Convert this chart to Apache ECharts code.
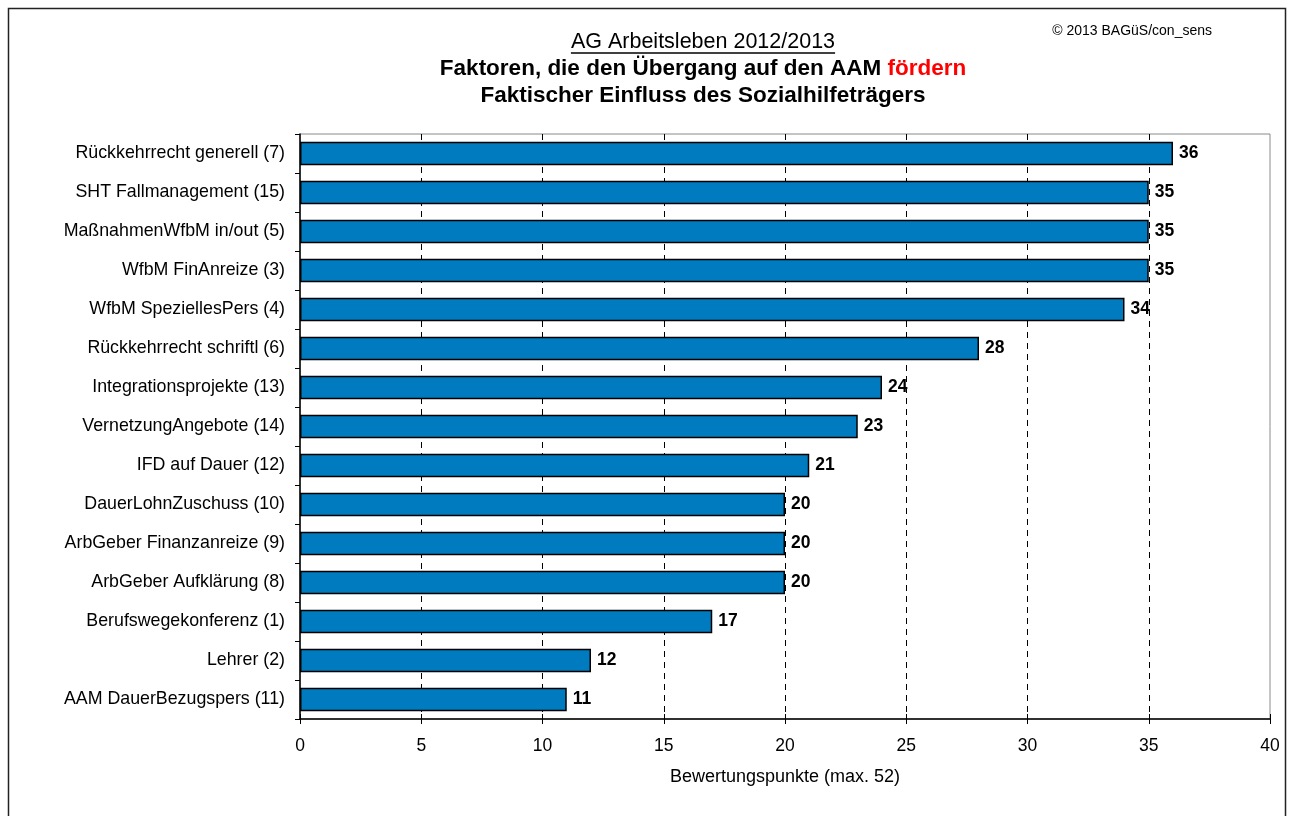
<!DOCTYPE html>
<html>
<head>
<meta charset="utf-8">
<script src="https://cdn.jsdelivr.net/npm/echarts@6/dist/echarts.min.js"></script>
<style>
  html, body { margin: 0; padding: 0; background: #fff; }
  #chart { width: 1292px; height: 816px; }
</style>
</head>
<body>
<div id="chart"></div>
<script>
// Factors listed top to bottom, with their rating points
const categories = [
  'Rückkehrrecht generell (7)',
  'SHT Fallmanagement (15)',
  'MaßnahmenWfbM in/out (5)',
  'WfbM FinAnreize (3)',
  'WfbM SpeziellesPers (4)',
  'Rückkehrrecht schriftl (6)',
  'Integrationsprojekte (13)',
  'VernetzungAngebote (14)',
  'IFD auf Dauer (12)',
  'DauerLohnZuschuss (10)',
  'ArbGeber Finanzanreize (9)',
  'ArbGeber Aufklärung (8)',
  'Berufswegekonferenz (1)',
  'Lehrer (2)',
  'AAM DauerBezugspers (11)'
];
const points = [36, 35, 35, 35, 34, 28, 24, 23, 21, 20, 20, 20, 17, 12, 11];

const titleLine1 = 'AG Arbeitsleben 2012/2013';
const titleLine2a = 'Faktoren, die den Übergang auf den AAM ';
const titleLine2b = 'fördern';
const titleLine3 = 'Faktischer Einfluss des Sozialhilfeträgers';
const copyright = '© 2013 BAGüS/con_sens';
const xAxisName = 'Bewertungspunkte (max. 52)';

const FONT = '"Liberation Sans", Arial, sans-serif';

// measure the first title line so its underline spans exactly the text
const ctx = document.createElement('canvas').getContext('2d');
ctx.font = '21.5px "Liberation Sans"';
const t1w = ctx.measureText(titleLine1).width;
const cx = 703;

const chart = echarts.init(document.getElementById('chart'));

const axisBase = {
  type: 'value',
  min: 0,
  max: 40,
  interval: 5
};

chart.setOption({
  animation: false,
  backgroundColor: '#fff',
  textStyle: { fontFamily: FONT },
  grid: {
    left: 300, right: 22, top: 134, bottom: 97,
    show: true, borderColor: '#8a8a8a', borderWidth: 1
  },
  xAxis: [
    Object.assign({}, axisBase, {
      name: xAxisName,
      nameLocation: 'middle',
      nameGap: 49,
      nameTextStyle: { color: '#000', fontSize: 18, fontFamily: FONT },
      axisLine: { show: true, lineStyle: { color: '#000', width: 1.5 } },
      axisTick: { show: true, length: 5, lineStyle: { color: '#000' } },
      axisLabel: { color: '#000', fontSize: 17.5, margin: 18, fontFamily: FONT },
      splitLine: {
        show: true, showMinLine: false, showMaxLine: false,
        lineStyle: { color: '#000', type: [6, 5], width: 1 }
      }
    }),
    Object.assign({}, axisBase, {
      position: 'bottom',
      axisLine: { show: false },
      axisTick: { show: true, inside: true, length: 5, lineStyle: { color: '#000' } },
      axisLabel: { show: false },
      splitLine: { show: false }
    })
  ],
  yAxis: {
    type: 'category',
    data: categories,
    inverse: true,
    axisLine: { show: true, lineStyle: { color: '#000', width: 1.5 } },
    axisTick: { show: true, length: 5, lineStyle: { color: '#000' } },
    axisLabel: { color: '#000', fontSize: 17.8, margin: 15, fontFamily: FONT },
    splitLine: { show: false }
  },
  series: [{
    type: 'bar',
    data: points,
    barCategoryGap: '40%',
    itemStyle: { color: '#007BBF', borderColor: '#000', borderWidth: 1.5 },
    label: {
      show: true,
      position: 'right',
      distance: 6,
      color: '#000',
      fontWeight: 'bold',
      fontSize: 17.5,
      fontFamily: FONT
    }
  }],
  graphic: [
    // outer frame
    { type: 'rect', shape: { x: 8.5, y: 8.5, width: 1277, height: 830 },
      style: { fill: null, stroke: '#222', lineWidth: 1.5 }, silent: true, z: 0 },
    { type: 'text', x: cx, y: 42, style: {
        text: titleLine1, font: '21.5px ' + FONT, fill: '#000',
        textAlign: 'center', textVerticalAlign: 'middle' } },
    { type: 'line', shape: { x1: cx - t1w / 2, y1: 53, x2: cx + t1w / 2, y2: 53 },
      style: { stroke: '#000', lineWidth: 1.3 } },
    { type: 'text', x: cx, y: 69, style: {
        text: '{b|' + titleLine2a + '}{r|' + titleLine2b + '}',
        textAlign: 'center', textVerticalAlign: 'middle',
        rich: {
          b: { font: 'bold 22.5px ' + FONT, fill: '#000' },
          r: { font: 'bold 22.5px ' + FONT, fill: '#FF0000' }
        } } },
    { type: 'text', x: cx, y: 96, style: {
        text: titleLine3, font: 'bold 22.5px ' + FONT, fill: '#000',
        textAlign: 'center', textVerticalAlign: 'middle' } },
    { type: 'text', x: 1212, y: 31, style: {
        text: copyright, font: '14px ' + FONT, fill: '#000',
        textAlign: 'right', textVerticalAlign: 'middle' } }
  ]
});
</script>
</body>
</html>
